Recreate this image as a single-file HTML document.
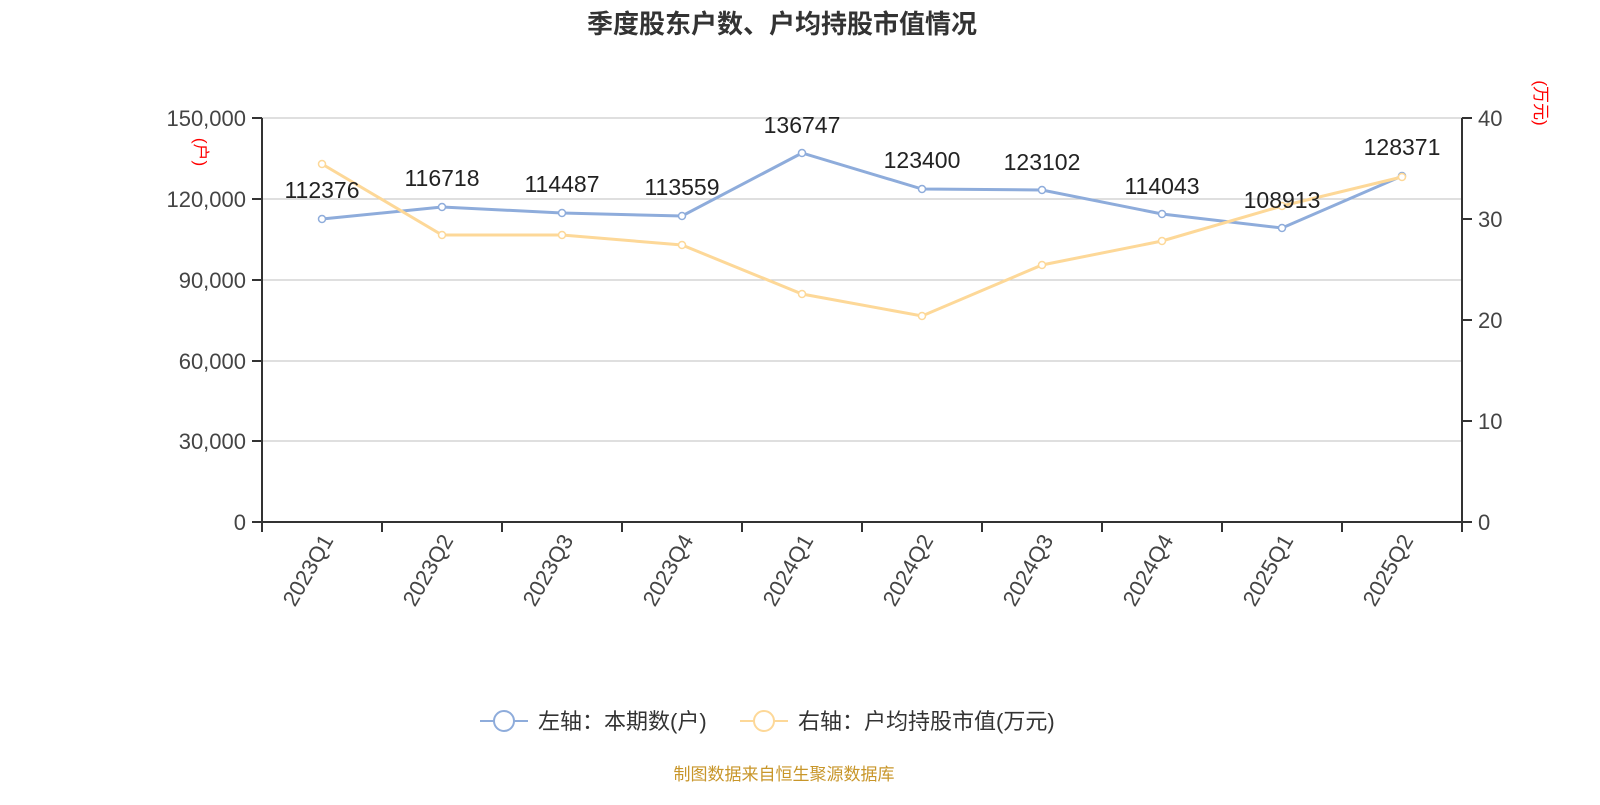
<!DOCTYPE html>
<html><head><meta charset="utf-8"><style>
body{margin:0;background:#fff;}
svg text{font-family:"Liberation Sans","Noto Sans CJK SC",sans-serif;}
</style></head><body>
<svg width="1600" height="800" xmlns="http://www.w3.org/2000/svg">
<text x="782" y="33" font-size="26" font-weight="bold" fill="#333" text-anchor="middle">季度股东户数、户均持股市值情况</text>
<g stroke="#ccc" stroke-width="1.3">
<line x1="262" y1="118" x2="1462" y2="118"/><line x1="262" y1="199" x2="1462" y2="199"/>
<line x1="262" y1="280" x2="1462" y2="280"/><line x1="262" y1="361" x2="1462" y2="361"/>
<line x1="262" y1="441" x2="1462" y2="441"/>
</g>
<g stroke="#333" stroke-width="2">
<line x1="262" y1="118" x2="262" y2="523"/><line x1="1462" y1="118" x2="1462" y2="523"/>
<line x1="252" y1="522" x2="1472" y2="522"/>
<line x1="252" y1="118" x2="262" y2="118"/><line x1="252" y1="199" x2="262" y2="199"/><line x1="252" y1="280" x2="262" y2="280"/><line x1="252" y1="361" x2="262" y2="361"/><line x1="252" y1="441" x2="262" y2="441"/>
<line x1="1462" y1="118" x2="1472" y2="118"/><line x1="1462" y1="219" x2="1472" y2="219"/><line x1="1462" y1="320" x2="1472" y2="320"/><line x1="1462" y1="421" x2="1472" y2="421"/>
<line x1="382" y1="522" x2="382" y2="532"/><line x1="502" y1="522" x2="502" y2="532"/><line x1="622" y1="522" x2="622" y2="532"/><line x1="742" y1="522" x2="742" y2="532"/><line x1="862" y1="522" x2="862" y2="532"/><line x1="982" y1="522" x2="982" y2="532"/><line x1="1102" y1="522" x2="1102" y2="532"/><line x1="1222" y1="522" x2="1222" y2="532"/><line x1="1342" y1="522" x2="1342" y2="532"/><line x1="262" y1="522" x2="262" y2="532"/><line x1="1462" y1="522" x2="1462" y2="532"/>
</g>
<g font-size="22" fill="#444" text-anchor="end">
<text x="246" y="126">150,000</text><text x="246" y="207">120,000</text><text x="246" y="288">90,000</text><text x="246" y="369">60,000</text><text x="246" y="449">30,000</text><text x="246" y="530">0</text>
</g>
<g font-size="22" fill="#444">
<text x="1478" y="126">40</text><text x="1478" y="227">30</text><text x="1478" y="328">20</text><text x="1478" y="429">10</text><text x="1478" y="530">0</text>
</g>
<text transform="translate(195,152) rotate(90)" font-size="17" fill="red" text-anchor="middle">(户)</text>
<text transform="translate(1535,103) rotate(90)" font-size="17" fill="red" text-anchor="middle">(万元)</text>
<g font-size="22" fill="#444" text-anchor="end">
<text transform="translate(334,540) rotate(-60)">2023Q1</text>
<text transform="translate(454,540) rotate(-60)">2023Q2</text>
<text transform="translate(574,540) rotate(-60)">2023Q3</text>
<text transform="translate(694,540) rotate(-60)">2023Q4</text>
<text transform="translate(814,540) rotate(-60)">2024Q1</text>
<text transform="translate(934,540) rotate(-60)">2024Q2</text>
<text transform="translate(1054,540) rotate(-60)">2024Q3</text>
<text transform="translate(1174,540) rotate(-60)">2024Q4</text>
<text transform="translate(1294,540) rotate(-60)">2025Q1</text>
<text transform="translate(1414,540) rotate(-60)">2025Q2</text>
</g>
<polyline fill="none" stroke="#8eacdb" stroke-width="3" points="322,219 442,207 562,213 682,216 802,153 922,189 1042,190 1162,214 1282,228 1402,176"/>
<g fill="#fff" stroke="#8eacdb" stroke-width="1.5">
<circle cx="322" cy="219" r="3.5"/><circle cx="442" cy="207" r="3.5"/><circle cx="562" cy="213" r="3.5"/><circle cx="682" cy="216" r="3.5"/><circle cx="802" cy="153" r="3.5"/><circle cx="922" cy="189" r="3.5"/><circle cx="1042" cy="190" r="3.5"/><circle cx="1162" cy="214" r="3.5"/><circle cx="1282" cy="228" r="3.5"/><circle cx="1402" cy="176" r="3.5"/>
</g>
<polyline fill="none" stroke="#fdd898" stroke-width="3" points="322,164 442,235 562,235 682,245 802,294 922,316 1042,265 1162,241 1282,206 1402,177"/>
<g fill="#fff" stroke="#fdd898" stroke-width="1.5">
<circle cx="322" cy="164" r="3.5"/><circle cx="442" cy="235" r="3.5"/><circle cx="562" cy="235" r="3.5"/><circle cx="682" cy="245" r="3.5"/><circle cx="802" cy="294" r="3.5"/><circle cx="922" cy="316" r="3.5"/><circle cx="1042" cy="265" r="3.5"/><circle cx="1162" cy="241" r="3.5"/><circle cx="1282" cy="206" r="3.5"/><circle cx="1402" cy="177" r="3.5"/>
</g>
<g font-size="23" fill="#222" text-anchor="middle">
<text x="322" y="198">112376</text><text x="442" y="186">116718</text><text x="562" y="192">114487</text><text x="682" y="195">113559</text><text x="802" y="133">136747</text><text x="922" y="168">123400</text><text x="1042" y="170">123102</text><text x="1162" y="194">114043</text><text x="1282" y="208">108913</text><text x="1402" y="155">128371</text>
</g>
<line x1="480" y1="721" x2="528" y2="721" stroke="#8eacdb" stroke-width="2"/>
<circle cx="504" cy="721" r="10" fill="#fff" stroke="#8eacdb" stroke-width="2"/>
<text x="538" y="729" font-size="22" fill="#333">左轴：本期数(户)</text>
<line x1="740" y1="721" x2="788" y2="721" stroke="#fdd898" stroke-width="2"/>
<circle cx="764" cy="721" r="10" fill="#fff" stroke="#fdd898" stroke-width="2"/>
<text x="798" y="729" font-size="22" fill="#333">右轴：户均持股市值(万元)</text>
<text x="784" y="780" font-size="17" fill="#c8962a" text-anchor="middle">制图数据来自恒生聚源数据库</text>
</svg>
</body></html>
